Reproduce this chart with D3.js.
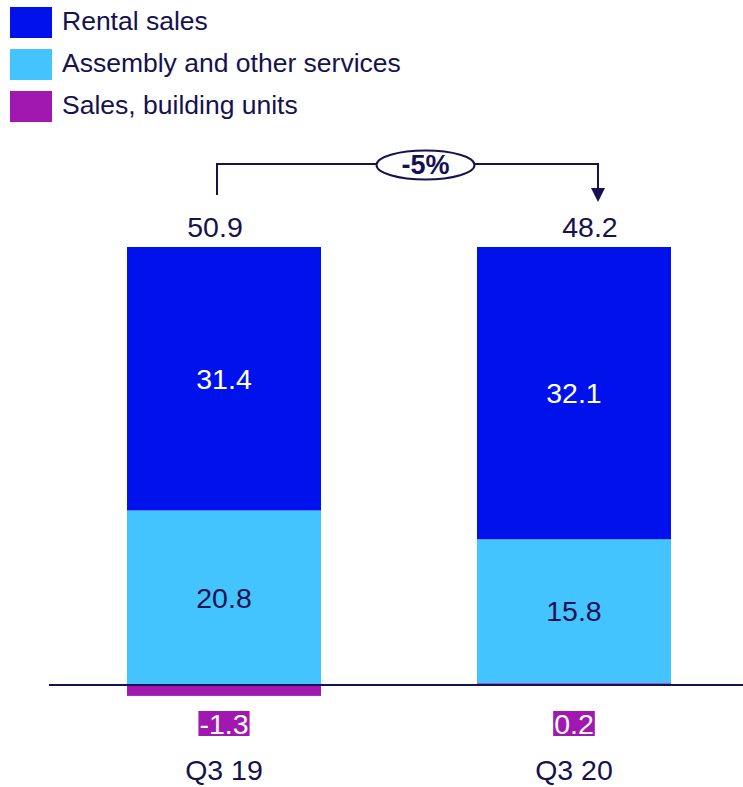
<!DOCTYPE html>
<html>
<head>
<meta charset="utf-8">
<script src="https://cdn.jsdelivr.net/npm/d3@7"></script>
<style>
  html, body { margin: 0; padding: 0; background: #fff; }
  svg { display: block; font-family: "Liberation Sans", Arial, sans-serif; }
</style>
</head>
<body>
<svg id="chart" width="743" height="787"></svg>
<script>
(function () {
// ---- data ----
const categories = ["Q3 19", "Q3 20"];
const seriesNames = ["Rental sales", "Assembly and other services", "Sales, building units"];
const rentalSales = [31.4, 32.1];
const assemblyServices = [20.8, 15.8];
const salesBuildingUnits = [-1.3, 0.2];
const totals = ["50.9", "48.2"];
const changeLabel = "-5%";

// ---- style ----
const colors = ["#0012EC", "#43C4FF", "#A018B0"];
const navy = "#15124F";

const svg = d3.select("#chart");
const W = 743;

// legend
const legend = svg.append("g");
seriesNames.forEach((name, i) => {
  legend.append("rect").attr("x", 10).attr("y", 7 + 42 * i).attr("width", 42).attr("height", 31).attr("fill", colors[i]);
  legend.append("text").attr("x", 62).attr("y", 30 + 42 * i).attr("font-size", 26.5).attr("fill", navy).text(name);
});

// scales
const x = d3.scaleBand().domain(categories).range([49, 749]).paddingInner(0.4457).paddingOuter(0.2229);
const y = d3.scaleLinear().domain([0, 1]).range([685, 247]); // share of each bar's positive sum
const bw = x.bandwidth();

// stack (bottom to top: sales, assembly, rental), normalized per bar
const stackOrder = [2, 1, 0];
const valuesBySeries = [rentalSales, assemblyServices, salesBuildingUnits];
const segments = [];
categories.forEach((c, i) => {
  const posSum = d3.sum(valuesBySeries, s => Math.max(0, s[i]));
  let pos = 0, neg = 0;
  stackOrder.forEach(si => {
    const v = valuesBySeries[si][i];
    let a, b;
    if (v >= 0) { a = pos; b = pos + v; pos = b; } else { b = neg; a = neg + v; neg = a; }
    segments.push({ cat: c, idx: i, series: si, value: v, y0: a / posSum, y1: b / posSum });
  });
});

svg.append("g").selectAll("rect").data(segments).join("rect")
  .attr("x", d => x(d.cat))
  .attr("width", bw)
  .attr("y", d => y(d.y1))
  .attr("height", d => y(d.y0) - y(d.y1))
  .attr("fill", d => colors[d.series]);

// baseline axis
svg.append("line").attr("x1", 49).attr("x2", W).attr("y1", y(0)).attr("y2", y(0))
  .attr("stroke", navy).attr("stroke-width", 2);

// inside labels for rental & assembly
svg.append("g").selectAll("text").data(segments.filter(d => d.series !== 2)).join("text")
  .attr("x", d => x(d.cat) + bw / 2)
  .attr("y", d => (y(d.y0) + y(d.y1)) / 2 + 10)
  .attr("text-anchor", "middle")
  .attr("font-size", 28.5)
  .attr("fill", d => d.series === 0 ? "#ffffff" : navy)
  .text(d => d.value.toFixed(1));

// sales labels (boxes) & category labels
categories.forEach((c, i) => {
  const cx = x(c) + bw / 2;
  const g = svg.append("g");
  const t = g.append("text").attr("x", cx).attr("y", y(0) + 49).attr("text-anchor", "middle")
    .attr("font-size", 28.5).attr("fill", "#fff").text(salesBuildingUnits[i].toFixed(1));
  const bb = t.node().getBBox();
  g.insert("rect", "text").attr("x", bb.x - 1).attr("y", y(0) + 26).attr("width", bb.width + 2).attr("height", 25)
    .attr("fill", colors[2]);
  svg.append("text").attr("x", cx).attr("y", y(0) + 95).attr("text-anchor", "middle")
    .attr("font-size", 28.5).attr("fill", navy).text(c);
});

// totals and change bracket
const cx0 = x(categories[0]) + bw / 2, cx1 = x(categories[1]) + bw / 2;
const barTop = y(1);
const bL = cx0 - 7, bR = cx1 + 24;
svg.append("text").attr("x", cx0 - 9).attr("y", barTop - 10).attr("text-anchor", "middle")
  .attr("font-size", 28.5).attr("fill", navy).text(totals[0]);
svg.append("text").attr("x", cx1 + 16).attr("y", barTop - 10).attr("text-anchor", "middle")
  .attr("font-size", 28.5).attr("fill", navy).text(totals[1]);

const hy = barTop - 83;
svg.append("path")
  .attr("d", `M${bL},${barTop - 52}V${hy}H${bR}V${barTop - 58}`)
  .attr("fill", "none").attr("stroke", navy).attr("stroke-width", 2);
svg.append("path")
  .attr("d", `M${bR - 7},${barTop - 59}L${bR + 7},${barTop - 59}L${bR},${barTop - 45}Z`)
  .attr("fill", navy);
const ex = (bL + bR) / 2 + 18;
svg.append("ellipse").attr("cx", ex).attr("cy", hy + 1).attr("rx", 49).attr("ry", 14.5)
  .attr("fill", "#fff").attr("stroke", navy).attr("stroke-width", 2);
svg.append("text").attr("x", ex).attr("y", hy + 10).attr("text-anchor", "middle")
  .attr("font-size", 27).attr("font-weight", "bold").attr("fill", navy).text(changeLabel);
})();
</script>
</body>
</html>
